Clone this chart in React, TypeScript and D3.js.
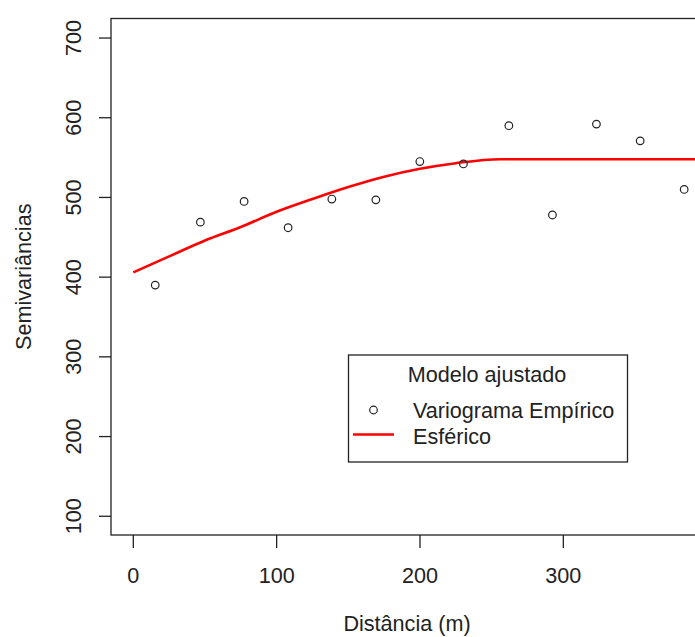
import React from 'react';
import * as d3 from 'd3';

// empirical variogram (lag distance in m, semivariance)
const lagDist = [15.3, 46.8, 77.3, 108, 138.5, 169.2, 199.9, 230.3, 262, 292.4, 323.1, 353.6, 384.3];
const semivar = [390, 469, 495, 462, 498, 497, 545, 542, 590, 478, 592, 571, 510];

// fitted spherical model
const modelDist = [0, 25, 50, 75, 100, 125, 150, 175, 200, 225, 256, 400];
const modelGamma = [406, 426, 446, 463, 482, 498, 513, 526, 536, 543, 548, 548];

const xTicks = [0, 100, 200, 300];
const yTicks = [100, 200, 300, 400, 500, 600, 700];

const legendTitle = 'Modelo ajustado';
const legendPoints = 'Variograma Empírico';
const legendLine = 'Esférico';

const W = 695;
const H = 637;
const FONT = '"Liberation Sans", Arial, sans-serif';
const INK = '#222';
const FS = 21.6;

const App = () => {
  const x = d3.scaleLinear().domain([-15.56, 409.3]).range([111, 720]);
  const y = d3.scaleLinear().domain([76.5, 724.5]).range([535, 18.5]);

  const pts = lagDist.map((d, i) => ({ d, g: semivar[i] }));
  const model = modelDist.map((d, i) => ({ d, g: modelGamma[i] }));

  const line = d3.line<{ d: number; g: number }>()
    .x(p => x(p.d))
    .y(p => y(p.g))
    .curve(d3.curveMonotoneX);

  const [x0, x1] = x.range();
  const [yb, yt] = y.range();

  return (
    <svg width={W} height={H} style={{ position: 'absolute', left: 0, top: 0, background: '#fff' }}
      fontFamily={FONT}>
      <defs>
        <clipPath id="plotArea">
          <rect x={x0} y={yt} width={x1 - x0} height={yb - yt} />
        </clipPath>
      </defs>

      {/* model curve */}
      <path d={line(model) || ''} fill="none" stroke="#ff0000" strokeWidth={2.6} clipPath="url(#plotArea)" />

      {/* empirical points */}
      {pts.map((p, i) => (
        <circle key={i} cx={x(p.d)} cy={y(p.g)} r={3.8} fill="none" stroke={INK} strokeWidth={1.2} />
      ))}

      {/* box */}
      <rect x={x0} y={yt} width={x1 - x0} height={yb - yt} fill="none" stroke={INK} strokeWidth={1.3} />

      {/* x axis */}
      {xTicks.map(t => (
        <g key={t}>
          <line x1={x(t)} x2={x(t)} y1={yb} y2={yb + 13} stroke={INK} strokeWidth={1.3} />
          <text x={x(t)} y={583} textAnchor="middle" fontSize={FS} fill={INK}>{t}</text>
        </g>
      ))}
      <text x={407} y={631} textAnchor="middle" fontSize={FS} fill={INK}>Distância (m)</text>

      {/* y axis */}
      {yTicks.map(t => (
        <g key={t}>
          <line x1={x0 - 12} x2={x0} y1={y(t)} y2={y(t)} stroke={INK} strokeWidth={1.3} />
          <text transform={`translate(81,${y(t)}) rotate(-90)`} textAnchor="middle" fontSize={FS} fill={INK}>{t}</text>
        </g>
      ))}
      <text transform={`translate(31,${(yb + yt) / 2}) rotate(-90)`} textAnchor="middle" fontSize={FS} fill={INK}>
        Semivariâncias
      </text>

      {/* legend */}
      <g>
        <rect x={348.5} y={355} width={279} height={107} fill="#fff" stroke={INK} strokeWidth={1.3} />
        <text x={487} y={382} textAnchor="middle" fontSize={FS} fill={INK}>{legendTitle}</text>
        <circle cx={373.5} cy={410} r={3.8} fill="none" stroke={INK} strokeWidth={1.2} />
        <text x={413} y={418} fontSize={FS} fill={INK}>{legendPoints}</text>
        <line x1={353} x2={394} y1={434.5} y2={434.5} stroke="#ff0000" strokeWidth={2.6} />
        <text x={413} y={444} fontSize={FS} fill={INK}>{legendLine}</text>
      </g>
    </svg>
  );
};

export default App;
